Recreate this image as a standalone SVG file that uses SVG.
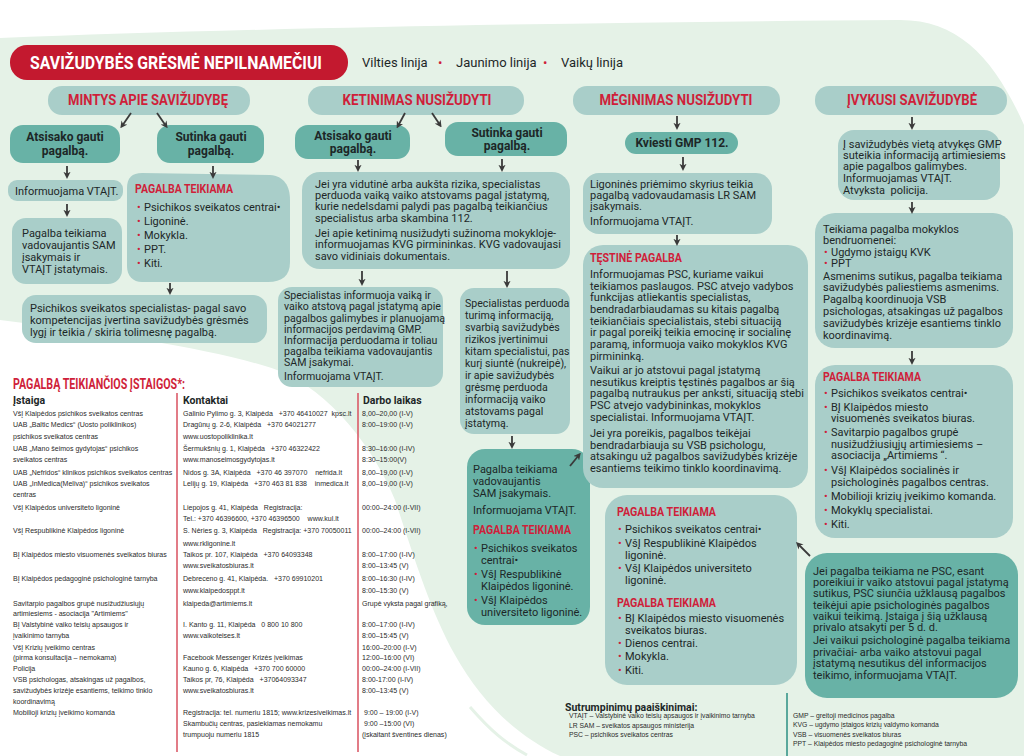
<svg xmlns="http://www.w3.org/2000/svg" width="1024" height="756" viewBox="0 0 1024 756">
<defs>
<style>
.t{font-family:Roboto,'Liberation Sans',Arial,sans-serif;font-size:11px;fill:#1d2727}
.m{font-size:11px}
.b{font-weight:700}
.h{font-family:Roboto,'Liberation Sans',Arial,sans-serif;font-weight:700;fill:#cf1f3a}
.bul{fill:#cf1f3a}
.lt{fill:#a9cec9}
.dk{fill:#68b2a6}
.tb{font-family:'Liberation Sans',Arial,sans-serif;font-size:8px;fill:#2b2b2b;white-space:pre}
.lg{font-family:'Liberation Sans',Arial,sans-serif;font-size:6.8px;fill:#2b2b2b}
.ar{stroke:#3a3a3a;stroke-width:1.8;fill:none;marker-end:url(#ah)}
</style>
<marker id="ah" viewBox="0 0 10 10" refX="6" refY="5" markerWidth="4" markerHeight="4" orient="auto"><path d="M0,0 L10,5 L0,10 L3,5 Z" fill="#3a3a3a"/></marker>
</defs>

<!-- background -->
<rect width="1024" height="756" fill="#ffffff"/>
<path fill="#e5f2e7" d="M0,38 C 250,28 600,22 900,20 C 960,20 995,60 1024,125 L1024,756 L560,756 C 515,735 480,700 455,655 C 430,610 415,560 395,500 C 375,450 330,390 277,370 C 220,350 120,335 0,320 Z"/>
<path d="M470,707 C 490,730 505,743 527,755" stroke="#e5f2e7" stroke-width="3" fill="none"/>

<!-- header -->
<g id="banner">
<rect x="10" y="45" width="338" height="35" rx="17" fill="#c3192f"/>
<text transform="translate(30,69) scale(1,1.2)" font-family="Roboto,'Liberation Sans',Arial,sans-serif" font-weight="700" font-size="15.5" fill="#ffffff" textLength="292" lengthAdjust="spacingAndGlyphs">SAVIŽUDYBĖS GRĖSMĖ NEPILNAMEČIUI</text>
</g>
<g id="lines">
<text class="t" style="font-size:13px" y="67"><tspan x="362">Vilties linija</tspan><tspan x="438" class="bul">•</tspan><tspan x="456">Jaunimo linija</tspan><tspan x="543" class="bul">•</tspan><tspan x="561">Vaikų linija</tspan></text>
</g>

<g id="pill-mintys"><rect class="lt" x="48" y="86" width="202" height="29" rx="14"/><text class="h" x="148" y="105" font-size="15" text-anchor="middle" textLength="160" lengthAdjust="spacingAndGlyphs">MINTYS APIE SAVIŽUDYBĘ</text></g>
<g id="pill-ketinimas"><rect class="lt" x="308" y="86" width="216" height="29" rx="14"/><text class="h" x="417" y="105" font-size="15" text-anchor="middle" textLength="149" lengthAdjust="spacingAndGlyphs">KETINIMAS NUSIŽUDYTI</text></g>
<g id="pill-meginimas"><rect class="lt" x="573" y="86" width="207" height="29" rx="14"/><text class="h" x="676" y="105" font-size="15" text-anchor="middle" textLength="153" lengthAdjust="spacingAndGlyphs">MĖGINIMAS NUSIŽUDYTI</text></g>
<g id="pill-ivykusi"><rect class="lt" x="815" y="86" width="192" height="29" rx="14"/><text class="h" x="912" y="105" font-size="15" text-anchor="middle" textLength="130" lengthAdjust="spacingAndGlyphs">ĮVYKUSI SAVIŽUDYBĖ</text></g>

<!-- Mintys column -->
<g id="m-atsisako"><rect class="dk" x="10" y="125" width="110" height="38" rx="13"/><text class="t b" style="font-size:12px" text-anchor="middle"><tspan x="65" y="141">Atsisako gauti</tspan><tspan x="65" y="155">pagalbą.</tspan></text></g>
<g id="m-sutinka"><rect class="dk" x="157" y="125" width="107" height="38" rx="13"/><text class="t b" style="font-size:12px" text-anchor="middle"><tspan x="211" y="141">Sutinka gauti</tspan><tspan x="211" y="155">pagalbą.</tspan></text></g>
<g id="m-vtait"><rect class="lt" x="8" y="180" width="115" height="21" rx="9"/><text class="t m" x="15" y="195">Informuojama VTAĮT.</text></g>
<g id="m-sam"><rect class="lt" x="12" y="218" width="110" height="66" rx="14"/><text class="t m"><tspan x="22" y="237">Pagalba teikiama</tspan><tspan x="22" y="249">vadovaujantis SAM</tspan><tspan x="22" y="261">įsakymais ir</tspan><tspan x="22" y="273">VTAĮT įstatymais.</tspan></text></g>
<g id="m-pagalba"><path class="lt" d="M142,173 L270,175 C284,176 290,186 290,200 L290,262 C290,276 282,282 268,282 L142,282 C133,282 127,276 127,266 L127,188 C127,178 132,173 142,173 Z"/>
<text class="h" x="135" y="193" font-size="12" textLength="98" lengthAdjust="spacingAndGlyphs">PAGALBA TEIKIAMA</text>
<text class="t m"><tspan x="137" y="211" class="bul">•</tspan><tspan x="144">Psichikos sveikatos centrai•</tspan></text>
<text class="t m"><tspan x="137" y="225" class="bul">•</tspan><tspan x="144">Ligoninė.</tspan></text>
<text class="t m"><tspan x="137" y="239" class="bul">•</tspan><tspan x="144">Mokykla.</tspan></text>
<text class="t m"><tspan x="137" y="253" class="bul">•</tspan><tspan x="144">PPT.</tspan></text>
<text class="t m"><tspan x="137" y="267" class="bul">•</tspan><tspan x="144">Kiti.</tspan></text>
</g>
<g id="m-specialistas"><rect class="lt" x="22" y="295" width="245" height="48" rx="14"/><text class="t m"><tspan x="30" y="312">Psichikos sveikatos specialistas- pagal savo</tspan><tspan x="30" y="324">kompetencijas įvertina savižudybės grėsmės</tspan><tspan x="30" y="336">lygį ir teikia / skiria tolimesnę pagalbą.</tspan></text></g>

<!-- Ketinimas column -->
<g id="k-atsisako"><rect class="dk" x="295" y="125" width="115" height="34" rx="13"/><text class="t b" style="font-size:12px" text-anchor="middle"><tspan x="353" y="140">Atsisako gauti</tspan><tspan x="353" y="153">pagalbą.</tspan></text></g>
<g id="k-sutinka"><rect class="dk" x="445" y="122" width="122" height="34" rx="13"/><text class="t b" style="font-size:12px" text-anchor="middle"><tspan x="507" y="137">Sutinka gauti</tspan><tspan x="507" y="150">pagalbą.</tspan></text></g>
<g id="k-rizika"><rect class="lt" x="302" y="172" width="268" height="97" rx="18"/><text class="t m"><tspan x="315" y="188">Jei yra vidutinė arba aukšta rizika, specialistas</tspan><tspan x="315" y="199">perduoda vaiką vaiko atstovams pagal įstatymą,</tspan><tspan x="315" y="210">kurie nedelsdami palydi pas pagalbą teikiančius</tspan><tspan x="315" y="222">specialistus arba skambina 112.</tspan><tspan x="315" y="237">Jei apie ketinimą nusižudyti sužinoma mokykloje-</tspan><tspan x="315" y="248">informuojamas KVG pirmininkas. KVG vadovaujasi</tspan><tspan x="315" y="260">savo vidiniais dokumentais.</tspan></text></g>
<g id="k-informuoja"><rect class="lt" x="278" y="287" width="165" height="100" rx="14"/><text class="t" style="font-size:10.6px"><tspan x="284" y="299">Specialistas informuoja vaiką ir</tspan><tspan x="284" y="310">vaiko atstovą pagal įstatymą apie</tspan><tspan x="284" y="322">pagalbos galimybes ir planuojamą</tspan><tspan x="284" y="333">informacijos perdavimą GMP.</tspan><tspan x="284" y="344">Informacija perduodama ir toliau</tspan><tspan x="284" y="355">pagalba teikiama vadovaujantis</tspan><tspan x="284" y="366">SAM įsakymai.</tspan><tspan x="284" y="380">Informuojama VTAĮT.</tspan></text></g>
<g id="k-perduoda"><rect class="lt" x="460" y="288" width="110" height="146" rx="14"/><text class="t" style="font-size:10.6px"><tspan x="465" y="307">Specialistas perduoda</tspan><tspan x="465" y="319">turimą informaciją,</tspan><tspan x="465" y="331">svarbią savižudybės</tspan><tspan x="465" y="343">rizikos įvertinimui</tspan><tspan x="465" y="355">kitam specialistui, pas</tspan><tspan x="465" y="367">kurį siuntė (nukreipė),</tspan><tspan x="465" y="379">ir apie savižudybės</tspan><tspan x="465" y="391">grėsmę perduoda</tspan><tspan x="465" y="403">informaciją vaiko</tspan><tspan x="465" y="415">atstovams pagal</tspan><tspan x="465" y="427">įstatymą.</tspan></text></g>
<g id="k-pagalba"><rect class="dk" x="467" y="449" width="123" height="176" rx="18"/>
<text class="t m"><tspan x="473" y="473">Pagalba teikiama</tspan><tspan x="473" y="485">vadovaujantis</tspan><tspan x="473" y="497">SAM įsakymais.</tspan><tspan x="473" y="514">Informuojama VTAĮT.</tspan></text>
<text class="h" x="473" y="534" font-size="12" textLength="98" lengthAdjust="spacingAndGlyphs">PAGALBA TEIKIAMA</text>
<text class="t m"><tspan x="474" y="552" class="bul">•</tspan><tspan x="481">Psichikos sveikatos</tspan><tspan x="481" y="563.5">centrai•</tspan></text>
<text class="t m"><tspan x="474" y="578" class="bul">•</tspan><tspan x="481">VšĮ Respublikinė</tspan><tspan x="481" y="589.5">Klaipėdos ligoninė.</tspan></text>
<text class="t m"><tspan x="474" y="604" class="bul">•</tspan><tspan x="481">VšĮ Klaipėdos</tspan><tspan x="481" y="615.5">universiteto ligoninė.</tspan></text>
</g>

<!-- Mėginimas column -->
<g id="g-gmp"><rect class="dk" x="625" y="132" width="113" height="22" rx="11"/><text class="t b" style="font-size:12px" x="682" y="147" text-anchor="middle">Kviesti GMP 112.</text></g>
<g id="g-ligonine"><rect class="lt" x="583" y="173" width="189" height="61" rx="16"/><text class="t m"><tspan x="590" y="188">Ligoninės priėmimo skyrius teikia</tspan><tspan x="590" y="199">pagalbą vadovaudamasis LR SAM</tspan><tspan x="590" y="210">įsakymais.</tspan><tspan x="590" y="225">Informuojama VTAĮT.</tspan></text></g>
<g id="g-testine"><rect class="lt" x="583" y="245" width="225" height="243" rx="20"/>
<text class="h" x="590" y="262" font-size="12" textLength="92" lengthAdjust="spacingAndGlyphs">TĘSTINĖ PAGALBA</text>
<text class="t"><tspan x="590" y="278">Informuojamas PSC, kuriame vaikui</tspan><tspan x="590" y="290">teikiamos paslaugos. PSC atvejo vadybos</tspan><tspan x="590" y="301">funkcijas atliekantis specialistas,</tspan><tspan x="590" y="313">bendradarbiaudamas su kitais pagalbą</tspan><tspan x="590" y="325">teikiančiais specialistais, stebi situaciją</tspan><tspan x="590" y="336">ir pagal poreikį teikia emocinę ir socialinę</tspan><tspan x="590" y="348">paramą, informuoja vaiko mokyklos KVG</tspan><tspan x="590" y="360">pirmininką.</tspan>
<tspan x="590" y="374">Vaikui ar jo atstovui pagal įstatymą</tspan><tspan x="590" y="386">nesutikus kreiptis tęstinės pagalbos ar šią</tspan><tspan x="590" y="397">pagalbą nutraukus per anksti, situaciją stebi</tspan><tspan x="590" y="409">PSC atvejo vadybininkas, mokyklos</tspan><tspan x="590" y="421">specialistai. Informuojama VTAĮT.</tspan>
<tspan x="590" y="437">Jei yra poreikis, pagalbos teikėjai</tspan><tspan x="590" y="449">bendradarbiauja su VSB psichologu,</tspan><tspan x="590" y="460">atsakingu už pagalbos savižudybės krizėje</tspan><tspan x="590" y="472">esantiems teikimo tinklo koordinavimą.</tspan></text>
</g>
<g id="g-pagalba"><rect class="lt" x="605" y="495" width="192" height="190" rx="22"/>
<text class="h" x="617" y="516" font-size="12" textLength="99" lengthAdjust="spacingAndGlyphs">PAGALBA TEIKIAMA</text>
<text class="t m"><tspan x="618" y="533" class="bul">•</tspan><tspan x="625">Psichikos sveikatos centrai•</tspan></text>
<text class="t m"><tspan x="618" y="547" class="bul">•</tspan><tspan x="625">VšĮ Respublikinė Klaipėdos</tspan><tspan x="625" y="558.5">ligoninė.</tspan></text>
<text class="t m"><tspan x="618" y="572" class="bul">•</tspan><tspan x="625">VšĮ Klaipėdos universiteto</tspan><tspan x="625" y="583.5">ligoninė.</tspan></text>
<text class="h" x="617" y="607" font-size="12" textLength="99" lengthAdjust="spacingAndGlyphs">PAGALBA TEIKIAMA</text>
<text class="t m"><tspan x="618" y="622" class="bul">•</tspan><tspan x="625">BĮ Klaipėdos miesto visuomenės</tspan><tspan x="625" y="633.5">sveikatos biuras.</tspan></text>
<text class="t m"><tspan x="618" y="647" class="bul">•</tspan><tspan x="625">Dienos centrai.</tspan></text>
<text class="t m"><tspan x="618" y="660" class="bul">•</tspan><tspan x="625">Mokykla.</tspan></text>
<text class="t m"><tspan x="618" y="674" class="bul">•</tspan><tspan x="625">Kiti.</tspan></text>
</g>

<!-- Įvykusi column -->
<g id="i-gmp"><rect class="lt" x="838" y="130" width="162" height="70" rx="16"/><text class="t m"><tspan x="843" y="148">Į savižudybės vietą atvykęs GMP</tspan><tspan x="843" y="159">suteikia informaciją artimiesiems</tspan><tspan x="843" y="170">apie pagalbos galimybes.</tspan><tspan x="843" y="182">Informuojamas VTAĮT.</tspan><tspan x="843" y="194" style="white-space:pre">Atvyksta  policija.</tspan></text></g>
<g id="i-mokykla"><rect class="lt" x="815" y="213" width="198" height="135" rx="20"/>
<text class="t m"><tspan x="823" y="233">Teikiama pagalba mokyklos</tspan><tspan x="823" y="244">bendruomenei:</tspan></text>
<text class="t m"><tspan x="824" y="256" class="bul">•</tspan><tspan x="831">Ugdymo įstaigų KVK</tspan></text>
<text class="t m"><tspan x="824" y="267" class="bul">•</tspan><tspan x="831">PPT</tspan></text>
<text class="t m"><tspan x="823" y="280">Asmenims sutikus, pagalba teikiama</tspan><tspan x="823" y="291">savižudybės paliestiems asmenims.</tspan><tspan x="823" y="303">Pagalbą koordinuoja VSB</tspan><tspan x="823" y="315">psichologas, atsakingas už pagalbos</tspan><tspan x="823" y="327">savižudybės krizėje esantiems tinklo</tspan><tspan x="823" y="339">koordinavimą.</tspan></text>
</g>
<g id="i-pagalba"><rect class="lt" x="815" y="365" width="198" height="173" rx="20"/>
<text class="h" x="823" y="381" font-size="12" textLength="98" lengthAdjust="spacingAndGlyphs">PAGALBA TEIKIAMA</text>
<text class="t m"><tspan x="824" y="397" class="bul">•</tspan><tspan x="831">Psichikos sveikatos centrai•</tspan></text>
<text class="t m"><tspan x="824" y="411" class="bul">•</tspan><tspan x="831">BĮ Klaipėdos miesto</tspan><tspan x="831" y="422">visuomenės sveikatos biuras.</tspan></text>
<text class="t m"><tspan x="824" y="436" class="bul">•</tspan><tspan x="831">Savitarpio pagalbos grupė</tspan><tspan x="831" y="447.5">nusižudžiusiųjų artimiesiems –</tspan><tspan x="831" y="459">asociacija „Artimiems “.</tspan></text>
<text class="t m"><tspan x="824" y="474" class="bul">•</tspan><tspan x="831">VšĮ Klaipėdos socialinės ir</tspan><tspan x="831" y="485.5">psichologinės pagalbos centras.</tspan></text>
<text class="t m"><tspan x="824" y="500" class="bul">•</tspan><tspan x="831">Mobilioji krizių įveikimo komanda.</tspan></text>
<text class="t m"><tspan x="824" y="514" class="bul">•</tspan><tspan x="831">Mokyklų specialistai.</tspan></text>
<text class="t m"><tspan x="824" y="528" class="bul">•</tspan><tspan x="831">Kiti.</tspan></text>
</g>
<g id="i-psc"><rect class="dk" x="805" y="553" width="213" height="145" rx="22"/><text class="t"><tspan x="813" y="575">Jei pagalba teikiama ne PSC, esant</tspan><tspan x="813" y="586">poreikiui ir vaiko atstovui pagal įstatymą</tspan><tspan x="813" y="597">sutikus, PSC siunčia užklausą pagalbos</tspan><tspan x="813" y="609">teikėjui apie psichologinės pagalbos</tspan><tspan x="813" y="620">vaikui teikimą. Įstaiga į šią užklausą</tspan><tspan x="813" y="631">privalo atsakyti per 5 d. d.</tspan><tspan x="813" y="644">Jei vaikui psichologinė pagalba teikiama</tspan><tspan x="813" y="656">privačiai- arba vaiko atstovui pagal</tspan><tspan x="813" y="667">įstatymą nesutikus dėl informacijos</tspan><tspan x="813" y="679">teikimo, informuojama VTAĮT.</tspan></text></g>

<!-- connectors -->
<g id="connectors">
<line class="ar" x1="131" y1="113" x2="122" y2="126"/>
<line class="ar" x1="157" y1="113" x2="166" y2="126"/>
<line class="ar" x1="405" y1="113" x2="398" y2="126"/>
<line class="ar" x1="432" y1="113" x2="440" y2="125"/>
<line class="ar" x1="677" y1="116" x2="677" y2="127"/>
<line class="ar" x1="912" y1="117" x2="912" y2="127"/>
<line class="ar" x1="67" y1="166" x2="67" y2="176"/>
<line class="ar" x1="213" y1="166" x2="213" y2="176"/>
<line class="ar" x1="67" y1="204" x2="67" y2="214"/>
<line class="ar" x1="170" y1="283" x2="170" y2="292"/>
<line class="ar" x1="358" y1="160" x2="358" y2="169"/>
<line class="ar" x1="502" y1="159" x2="502" y2="169"/>
<line class="ar" x1="362" y1="271" x2="362" y2="283"/>
<line class="ar" x1="507" y1="271" x2="507" y2="285"/>
<line class="ar" x1="512" y1="436" x2="512" y2="446"/>
<line class="ar" x1="570" y1="466" x2="579" y2="455"/>
<line class="ar" x1="683" y1="157" x2="683" y2="168"/>
<line class="ar" x1="677" y1="235" x2="677" y2="243"/>
<line class="ar" x1="912" y1="202" x2="912" y2="211"/>
<line class="ar" x1="912" y1="351" x2="912" y2="362"/>
<line class="ar" x1="810" y1="556" x2="798" y2="544"/>
</g>

<!-- institutions table -->
<g id="table">
<text class="h" x="13" y="389" font-size="14" textLength="172" lengthAdjust="spacingAndGlyphs">PAGALBĄ TEIKIANČIOS ĮSTAIGOS*:</text>
<text class="t b" style="font-size:10.5px" x="13" y="404">Įstaiga</text>
<text class="t b" style="font-size:10.5px" x="183" y="404">Kontaktai</text>
<text class="t b" style="font-size:10.5px" x="363" y="404">Darbo laikas</text>
<line x1="177" y1="393" x2="177" y2="752" stroke="#d9505f" stroke-width="1.5"/>
<line x1="358" y1="393" x2="358" y2="752" stroke="#d9505f" stroke-width="1.5"/>
<g transform="scale(0.88 1)">
<text class="tb">
<tspan x="14.8" y="416">VšĮ Klaipėdos psichikos sveikatos centras</tspan>
<tspan x="14.8" y="427">UAB „Baltic Medics“ (Uosto poliklinikos)</tspan>
<tspan x="14.8" y="439">psichikos sveikatos centras</tspan>
<tspan x="14.8" y="451">UAB „Mano šeimos gydytojas“ psichikos</tspan>
<tspan x="14.8" y="462">sveikatos centras</tspan>
<tspan x="14.8" y="475">UAB „Nefridos“ klinikos psichikos sveikatos centras</tspan>
<tspan x="14.8" y="486">UAB „InMedica(Meliva)“ psichikos sveikatos</tspan>
<tspan x="14.8" y="497">centras</tspan>
<tspan x="14.8" y="510">VšĮ Klaipėdos universiteto ligoninė</tspan>
<tspan x="14.8" y="533">VšĮ Respublikinė Klaipėdos ligoninė</tspan>
<tspan x="14.8" y="557">BĮ Klaipėdos miesto visuomenės sveikatos biuras</tspan>
<tspan x="14.8" y="581">BĮ Klaipėdos pedagoginė psichologinė tarnyba</tspan>
<tspan x="14.8" y="606">Savitarpio pagalbos grupė nusižudžiusiųjų</tspan>
<tspan x="14.8" y="616">artimiesiems - asociacija "Artimiems"</tspan>
<tspan x="14.8" y="627">BĮ Valstybinė vaiko teisių apsaugos ir</tspan>
<tspan x="14.8" y="638">įvaikinimo tarnyba</tspan>
<tspan x="14.8" y="650">VšĮ Krizių įveikimo centras</tspan>
<tspan x="14.8" y="660">(pirma konsultacija – nemokama)</tspan>
<tspan x="14.8" y="671">Policija</tspan>
<tspan x="14.8" y="682">VSB psichologas, atsakingas už pagalbos,</tspan>
<tspan x="14.8" y="693">savižudybės krizėje esantiems, teikimo tinklo</tspan>
<tspan x="14.8" y="704">koordinavimą</tspan>
<tspan x="14.8" y="715">Mobilioji krizių įveikimo komanda</tspan>
</text>
<text class="tb">
<tspan x="208" y="416">Galinio Pylimo g. 3, Klaipėda   +370 46410027  kpsc.lt</tspan>
<tspan x="208" y="427">Dragūnų g. 2-6, Klaipėda   +370 64021277</tspan>
<tspan x="208" y="439">www.uostopoliklinika.lt</tspan>
<tspan x="208" y="451">Šermukšnių g. 1, Klaipėda   +370 46322422</tspan>
<tspan x="208" y="462">www.manoseimosgydytojas.lt</tspan>
<tspan x="208" y="475">Nidos g. 3A, Klaipėda   +370 46 397070    nefrida.lt</tspan>
<tspan x="208" y="486">Lelijų g. 19, Klaipėda   +370 463 81 838    inmedica.lt</tspan>
<tspan x="208" y="510">Liepojos g. 41, Klaipėda   Registracija:</tspan>
<tspan x="208" y="521">Tel.: +370 46396600, +370 46396500    www.kul.lt</tspan>
<tspan x="208" y="533">S. Nėries g. 3, Klaipėda   Registracija: +370 70050011</tspan>
<tspan x="208" y="546">www.rkligonine.lt</tspan>
<tspan x="208" y="557">Taikos pr. 107, Klaipėda   +370 64093348</tspan>
<tspan x="208" y="568">www.sveikatosbiuras.lt</tspan>
<tspan x="208" y="581">Debreceno g. 41, Klaipėda.   +370 69910201</tspan>
<tspan x="208" y="593">www.klaipedosppt.lt</tspan>
<tspan x="208" y="606">klaipeda@artimiems.lt</tspan>
<tspan x="208" y="627">I. Kanto g. 11, Klaipėda   0 800 10 800</tspan>
<tspan x="208" y="638">www.vaikoteises.lt</tspan>
<tspan x="208" y="660">Facebook Messenger Krizės įveikimas</tspan>
<tspan x="208" y="671">Kauno g. 6, Klaipėda   +370 700 60000</tspan>
<tspan x="208" y="682">Taikos pr, 76, Klaipėda   +37064093347</tspan>
<tspan x="208" y="693">www.sveikatosbiuras.lt</tspan>
<tspan x="208" y="715">Registracija: tel. numeriu 1815; www.krizesiveikimas.lt</tspan>
<tspan x="208" y="726">Skambučių centras, pasiekiamas nemokamu</tspan>
<tspan x="208" y="737">trumpuoju numeriu 1815</tspan>
</text>
<text class="tb">
<tspan x="411.4" y="416">8,00–20,00 (I-V)</tspan>
<tspan x="411.4" y="427">8:00–19:00 (I-V)</tspan>
<tspan x="411.4" y="451">8:30–16:00 (I-IV)</tspan>
<tspan x="411.4" y="462">8:30–15:00(V)</tspan>
<tspan x="411.4" y="475">8,00–19,00 (I-V)</tspan>
<tspan x="411.4" y="486">8,00–19,00 (I-V)</tspan>
<tspan x="411.4" y="510">00:00–24:00 (I-VII)</tspan>
<tspan x="411.4" y="533">00:00–24:00 (I-VII)</tspan>
<tspan x="411.4" y="557">8:00–17:00 (I-IV)</tspan>
<tspan x="411.4" y="568">8:00–13:45 (V)</tspan>
<tspan x="411.4" y="581">8:00–16:30 (I-IV)</tspan>
<tspan x="411.4" y="593">8:00–15:30 (V)</tspan>
<tspan x="411.4" y="606">Grupė vyksta pagal grafiką,</tspan>
<tspan x="411.4" y="627">8:00–17:00 (I-IV)</tspan>
<tspan x="411.4" y="638">8:00–15:45 (V)</tspan>
<tspan x="411.4" y="650">16:00–20:00 (I-V)</tspan>
<tspan x="411.4" y="660">12:00–16:00 (VI)</tspan>
<tspan x="411.4" y="671">00:00–24:00 (I-VII)</tspan>
<tspan x="411.4" y="682">8:00-17:00 (I-IV)</tspan>
<tspan x="411.4" y="693">8:00–13:45 (V)</tspan>
<tspan x="411.4" y="715"> 9:00 – 19:00 (I-V)</tspan>
<tspan x="411.4" y="726"> 9:00 –15:00 (VI)</tspan>
<tspan x="411.4" y="737">(įskaitant šventines dienas)</tspan>
</text>
</g>
</g>

<!-- legend -->
<g id="legend">
<text class="t b" style="font-size:10.5px" x="565" y="711">Sutrumpinimų paaiškinimai:</text>
<text class="lg"><tspan x="569" y="718">VTAĮT – Valstybinė vaiko teisių apsaugos ir įvaikinimo tarnyba</tspan><tspan x="569" y="728">LR SAM – sveikatos apsaugos ministerija</tspan><tspan x="569" y="737">PSC – psichikos sveikatos centras</tspan></text>
<line x1="787" y1="693" x2="787" y2="756" stroke="#5aa89c" stroke-width="2"/>
<text class="lg"><tspan x="793" y="718">GMP – greitoji medicinos pagalba</tspan><tspan x="793" y="727">KVG – ugdymo įstaigos krizių valdymo komanda</tspan><tspan x="793" y="737">VSB – visuomenės sveikatos biuras</tspan><tspan x="793" y="746">PPT – Klaipėdos miesto pedagoginė psichologinė tarnyba</tspan></text>
</g>
</svg>
